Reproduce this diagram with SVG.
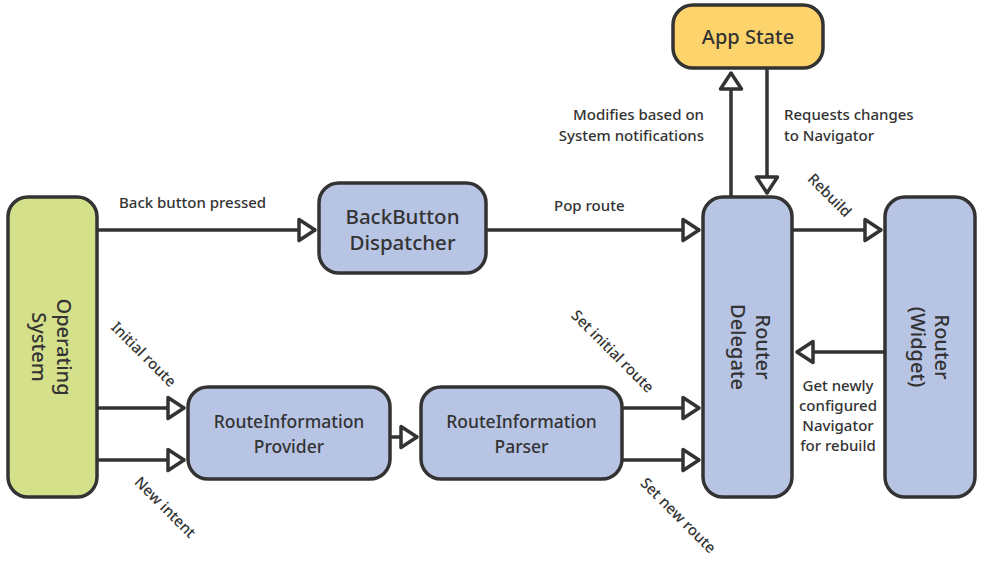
<svg xmlns="http://www.w3.org/2000/svg" width="981" height="561" viewBox="0 0 981 561">
<style>
.node{stroke:#333333;stroke-width:3.5}
.blue{fill:#b8c4e4}
.green{fill:#d5e08b}
.yellow{fill:#fdd36b}
.nl{font-family:"Noto Sans","DejaVu Sans",sans-serif;font-size:20px;font-weight:500;fill:#333333;text-anchor:middle}
.big{font-size:20.5px}
.small{font-size:17.5px}
.el{font-family:"Noto Sans","DejaVu Sans",sans-serif;font-size:15px;font-weight:500;fill:#333333}
.mid{text-anchor:middle}
.end{text-anchor:end}
.edge{stroke:#333333;stroke-width:3.5;fill:none;marker-end:url(#tri)}
</style>
<defs>
<marker id="tri" markerUnits="userSpaceOnUse" viewBox="-3 -14 24 28" markerWidth="24" markerHeight="28" refX="17" refY="0" orient="auto">
<path d="M0,-10.5 L16,0 L0,10.5 Z" fill="#ffffff" stroke="#333333" stroke-width="3.5" stroke-linejoin="round"/>
</marker>
</defs>
<rect width="981" height="561" fill="#ffffff"/>
<g id="connectors">
<path class="edge" d="M97,230 H316"/>
<path class="edge" d="M486,230 H700"/>
<path class="edge" d="M792,230 H882"/>
<path class="edge" d="M885,352 H796"/>
<path class="edge" d="M731,197 V72"/>
<path class="edge" d="M767,68 V194"/>
<path class="edge" d="M97,408 H185"/>
<path class="edge" d="M97,460 H185"/>
<path class="edge" d="M390,437 H418"/>
<path class="edge" d="M622,408 H700"/>
<path class="edge" d="M622,460 H700"/>
</g>
<g id="edge-labels">
<text class="el" x="119" y="208">Back button pressed</text>
<text class="el" x="554" y="211">Pop route</text>
<text class="el end" x="704" y="120">Modifies based on</text>
<text class="el end" x="704" y="141">System notifications</text>
<text class="el" x="784" y="120">Requests changes</text>
<text class="el" x="784" y="141">to Navigator</text>
<text class="el mid" x="826" y="199" transform="rotate(45 826 199)">Rebuild</text>
<text class="el mid" x="838" y="391">Get newly</text>
<text class="el mid" x="838" y="411">configured</text>
<text class="el mid" x="838" y="431">Navigator</text>
<text class="el mid" x="838" y="451">for rebuild</text>
<text class="el mid" x="140" y="358" transform="rotate(45 140 358)">Initial route</text>
<text class="el mid" x="161.5" y="511" transform="rotate(45 161.5 511)">New intent</text>
<text class="el mid" x="609" y="355" transform="rotate(45 609 355)">Set initial route</text>
<text class="el mid" x="674.5" y="519" transform="rotate(45 674.5 519)">Set new route</text>
</g>
<g id="os">
<rect class="node green" x="8" y="197" width="89" height="300" rx="20"/>
<g transform="translate(52 347) rotate(90)">
<text class="nl" x="0" y="-5">Operating</text>
<text class="nl" x="0" y="20">System</text>
</g>
</g>
<g id="backbutton">
<rect class="node blue" x="319" y="183" width="167" height="90" rx="20"/>
<text class="nl big" x="402.5" y="224">BackButton</text>
<text class="nl big" x="402.5" y="250">Dispatcher</text>
</g>
<g id="appstate">
<rect class="node yellow" x="673" y="5" width="150" height="63" rx="20"/>
<text class="nl" x="748" y="44">App State</text>
</g>
<g id="routerdelegate">
<rect class="node blue" x="703" y="197" width="89" height="300" rx="20"/>
<g transform="translate(747.5 347) rotate(90)">
<text class="nl" x="0" y="-8">Router</text>
<text class="nl" x="0" y="17">Delegate</text>
</g>
</g>
<g id="routerwidget">
<rect class="node blue" x="885" y="197" width="90" height="300" rx="20"/>
<g transform="translate(930 347) rotate(90)">
<text class="nl" x="0" y="-5">Router</text>
<text class="nl" x="0" y="19">(Widget)</text>
</g>
</g>
<g id="provider">
<rect class="node blue" x="188" y="387" width="202" height="92" rx="20"/>
<text class="nl small" x="289" y="428">RouteInformation</text>
<text class="nl small" x="289" y="453">Provider</text>
</g>
<g id="parser">
<rect class="node blue" x="421" y="387" width="201" height="92" rx="20"/>
<text class="nl small" x="521.5" y="428">RouteInformation</text>
<text class="nl small" x="521.5" y="453">Parser</text>
</g>
</svg>
